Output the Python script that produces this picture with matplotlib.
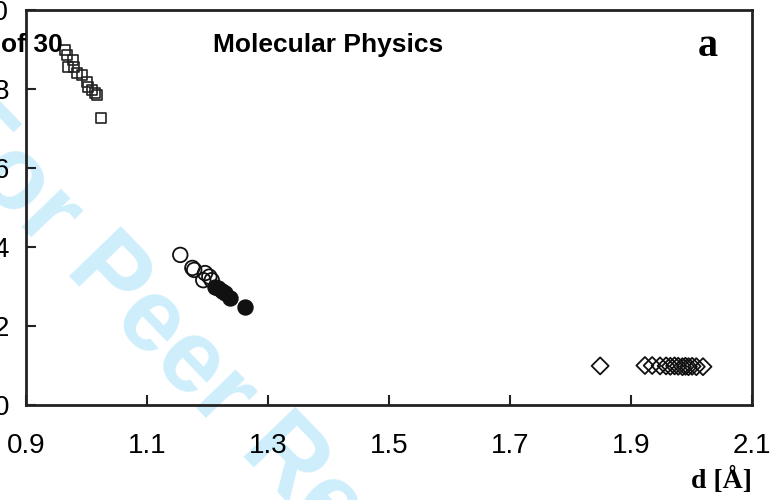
import matplotlib
matplotlib.use("Agg")
import matplotlib.pyplot as plt

# Data
sq_d = [0.964, 0.968, 0.978, 0.969, 0.979, 0.984, 0.993, 1.001, 1.003, 1.009, 1.014, 1.017, 1.024]
sq_v = [8.99, 8.86, 8.73, 8.56, 8.56, 8.41, 8.35, 8.18, 8.05, 7.97, 7.90, 7.85, 7.27]

circ_open_d = [1.155, 1.175, 1.178, 1.196, 1.193, 1.203, 1.207]
circ_open_v = [3.80, 3.47, 3.42, 3.34, 3.16, 3.25, 3.16]
circ_fill_d = [1.212, 1.218, 1.224, 1.229, 1.237, 1.262]
circ_fill_v = [2.99, 2.95, 2.88, 2.84, 2.71, 2.48]

dia_d = [1.849, 1.923, 1.935, 1.948, 1.958, 1.965, 1.972, 1.978, 1.985, 1.990, 1.995, 2.001, 2.008, 2.019]
dia_v = [0.99, 1.00, 1.00, 0.99, 0.99, 0.98, 0.99, 0.98, 0.97, 0.98, 0.97, 0.98, 0.97, 0.97]

x_ticks = [0.9, 1.1, 1.3, 1.5, 1.7, 1.9, 2.1]
y_ticks = [0, 2, 4, 6, 8, 10]

fig = plt.figure(figsize=(7.7, 5.0), dpi=100)
ax = fig.add_axes([26/770, 95/500, 726/770, 395/500])
ax.patch.set_alpha(0)

# watermark
fig.text(225/770, 1 - 400/500, "For Peer Review", color="#cfeefc", fontsize=74,
         fontweight="bold", family="Liberation Sans", rotation=-46,
         ha="center", va="center", zorder=-5)

ax.scatter(sq_d, sq_v, marker="s", s=55, facecolors="none", edgecolors="#222222", linewidths=1.2, zorder=3)
ax.scatter(circ_open_d, circ_open_v, marker="o", s=110, facecolors="none", edgecolors="#111111", linewidths=1.3, zorder=3)
ax.scatter(circ_fill_d, circ_fill_v, marker="o", s=110, facecolors="#111111", edgecolors="#111111", linewidths=1.3, zorder=3)
ax.scatter(dia_d, dia_v, marker="D", s=75, facecolors="none", edgecolors="#111111", linewidths=1.3, zorder=3)

ax.set_xlim(0.9, 2.1)
ax.set_ylim(0, 10)
ax.set_xticks(x_ticks)
ax.set_yticks(y_ticks)
ax.set_xticklabels([f"{t:.1f}" for t in x_ticks])
ax.tick_params(axis="both", direction="in", length=7, width=1.5, colors="#222222",
               labelsize=20, labelcolor="black")
ax.tick_params(axis="x", pad=20)
ax.tick_params(axis="y", pad=12)
for lab in ax.get_xticklabels() + ax.get_yticklabels():
    lab.set_family("Liberation Sans")
for sp in ax.spines.values():
    sp.set_linewidth(2.0)
    sp.set_color("#222222")

fig.text(1/770, 1 - 45/500, "of 30", fontsize=19, fontweight="bold", family="Liberation Sans",
         ha="left", va="center")
fig.text(213/770, 1 - 45/500, "Molecular Physics", fontsize=19, fontweight="bold",
         family="Liberation Sans", ha="left", va="center")
fig.text(708/770, 1 - 46/500, "a", fontsize=29, fontweight="bold", family="Liberation Serif",
         ha="center", va="center")
fig.text(752/770, 1 - 480/500, "d [Å]", fontsize=20, fontweight="bold", family="Liberation Serif",
         ha="right", va="center")

fig.savefig("out.png", dpi=100)
